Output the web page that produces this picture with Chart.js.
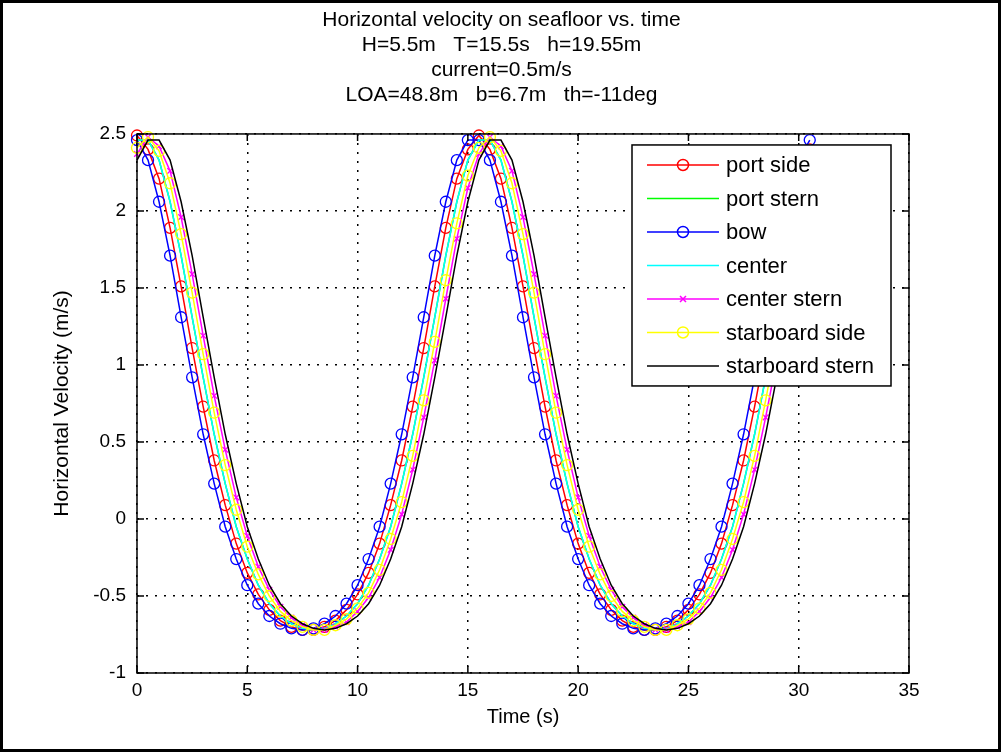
<!DOCTYPE html>
<html>
<head>
<meta charset="utf-8">
<title>Horizontal velocity on seafloor vs. time</title>
<script src="https://cdn.jsdelivr.net/npm/chart.js@4/dist/chart.umd.min.js"></script>
<style>
  body { margin: 0; background: #fff; }
  #wrap { position: relative; width: 1003px; height: 755px; }
  #frame {
    position: absolute; left: 0; top: 0; width: 1001px; height: 752px;
    box-sizing: border-box; border: 3px solid #000; pointer-events: none;
  }
</style>
</head>
<body>
<div id="wrap">
  <canvas id="velChart" width="1003" height="755"></canvas>
  <div id="frame"></div>
</div>
<script>
// time samples (s)
const timeS = [0,0.5,1,1.5,2,2.5,3,3.5,4,4.5,5,5.5,6,6.5,7,7.5,8,8.5,9,9.5,10,10.5,11,11.5,12,12.5,13,13.5,14,14.5,15,
  15.5,16,16.5,17,17.5,18,18.5,19,19.5,20,20.5,21,21.5,22,22.5,23,23.5,24,24.5,25,25.5,26,26.5,27,27.5,28,28.5,29,29.5,30,30.5];

// horizontal velocity (m/s)
const portSide = [2.49,2.40,2.21,1.89,1.51,1.11,0.73,0.38,0.09,-0.16,-0.35,-0.49,-0.59,-0.66,-0.70,-0.72,-0.72,-0.70,-0.66,-0.59,-0.49,-0.35,-0.16,0.09,0.38,0.73,1.11,1.51,1.89,2.21,2.40,
  2.49,2.40,2.21,1.89,1.51,1.11,0.73,0.38,0.09,-0.16,-0.35,-0.49,-0.59,-0.66,-0.70,-0.72,-0.72,-0.70,-0.66,-0.59,-0.49,-0.35,-0.16,0.09,0.38,0.73,1.11,1.51,1.89,2.21,2.40];
const portStern = [2.46,2.46,2.33,2.06,1.71,1.31,0.92,0.55,0.23,-0.05,-0.26,-0.43,-0.55,-0.63,-0.68,-0.71,-0.72,-0.71,-0.68,-0.63,-0.55,-0.43,-0.26,-0.05,0.23,0.55,0.92,1.31,1.71,2.06,2.33,
  2.46,2.46,2.33,2.06,1.71,1.31,0.92,0.55,0.23,-0.05,-0.26,-0.43,-0.55,-0.63,-0.68,-0.71,-0.72,-0.71,-0.68,-0.63,-0.55,-0.43,-0.26,-0.05,0.23,0.55,0.92,1.31,1.71,2.06,2.33];
const bow = [2.46,2.33,2.06,1.71,1.31,0.92,0.55,0.23,-0.05,-0.26,-0.43,-0.55,-0.63,-0.68,-0.71,-0.72,-0.71,-0.68,-0.63,-0.55,-0.43,-0.26,-0.05,0.23,0.55,0.92,1.31,1.71,2.06,2.33,2.46,
  2.46,2.33,2.06,1.71,1.31,0.92,0.55,0.23,-0.05,-0.26,-0.43,-0.55,-0.63,-0.68,-0.71,-0.72,-0.71,-0.68,-0.63,-0.55,-0.43,-0.26,-0.05,0.23,0.55,0.92,1.31,1.71,2.06,2.33,2.46];
const center = [2.46,2.46,2.33,2.06,1.71,1.31,0.92,0.55,0.23,-0.05,-0.26,-0.43,-0.55,-0.63,-0.68,-0.71,-0.72,-0.71,-0.68,-0.63,-0.55,-0.43,-0.26,-0.05,0.23,0.55,0.92,1.31,1.71,2.06,2.33,
  2.46,2.46,2.33,2.06,1.71,1.31,0.92,0.55,0.23,-0.05,-0.26,-0.43,-0.55,-0.63,-0.68,-0.71,-0.72,-0.71,-0.68,-0.63,-0.55,-0.43,-0.26,-0.05,0.23,0.55,0.92,1.31,1.71,2.06,2.33];
const centerStern = [2.37,2.48,2.42,2.26,1.96,1.59,1.19,0.80,0.45,0.14,-0.11,-0.31,-0.46,-0.57,-0.64,-0.69,-0.72,-0.72,-0.70,-0.67,-0.60,-0.51,-0.38,-0.20,0.03,0.32,0.66,1.03,1.43,1.82,2.15,
  2.37,2.48,2.42,2.26,1.96,1.59,1.19,0.80,0.45,0.14,-0.11,-0.31,-0.46,-0.57,-0.64,-0.69,-0.72,-0.72,-0.70,-0.67,-0.60,-0.51,-0.38,-0.20,0.03,0.32,0.66,1.03,1.43,1.82,2.15];
const starboardSide = [2.41,2.48,2.39,2.18,1.85,1.47,1.07,0.69,0.35,0.06,-0.18,-0.36,-0.50,-0.60,-0.66,-0.70,-0.72,-0.72,-0.69,-0.65,-0.58,-0.48,-0.33,-0.13,0.11,0.41,0.77,1.15,1.55,1.92,2.23,
  2.41,2.48,2.39,2.18,1.85,1.47,1.07,0.69,0.35,0.06,-0.18,-0.36,-0.50,-0.60,-0.66,-0.70,-0.72,-0.72,-0.69,-0.65,-0.58,-0.48,-0.33,-0.13,0.11,0.41,0.77,1.15,1.55,1.92,2.23];
const starboardStern = [2.33,2.46,2.46,2.33,2.06,1.71,1.31,0.92,0.55,0.23,-0.05,-0.26,-0.43,-0.55,-0.63,-0.68,-0.71,-0.72,-0.71,-0.68,-0.63,-0.55,-0.43,-0.26,-0.05,0.23,0.55,0.92,1.31,1.71,2.06,
  2.33,2.46,2.46,2.33,2.06,1.71,1.31,0.92,0.55,0.23,-0.05,-0.26,-0.43,-0.55,-0.63,-0.68,-0.71,-0.72,-0.71,-0.68,-0.63,-0.55,-0.43,-0.26,-0.05,0.23,0.55,0.92,1.31,1.71,2.06];

const seriesNames = ["port side", "port stern", "bow", "center", "center stern", "starboard side", "starboard stern"];
const xTicks = [0, 5, 10, 15, 20, 25, 30, 35];
const yTicks = [-1, -0.5, 0, 0.5, 1, 1.5, 2, 2.5];
const titleLines = [
  "Horizontal velocity on seafloor vs. time",
  "H=5.5m   T=15.5s   h=19.55m",
  "current=0.5m/s",
  "LOA=48.8m   b=6.7m   th=-11deg"
];

const FONT = "'Liberation Sans', Arial, Helvetica, sans-serif";
const seriesValues = [portSide, portStern, bow, center, centerStern, starboardSide, starboardStern];
const seriesColors = ["#ff0000", "#00ff00", "#0000ff", "#00ffff", "#ff00ff", "#ffff00", "#000000"];
const seriesMarkers = ["circle", false, "circle", false, "crossRot", "circle", false];

// box, inward ticks on all four sides
const axesBox = {
  id: "axesBox",
  afterDatasetsDraw(chart) {
    const { ctx, chartArea: a, scales } = chart;
    ctx.save();
    ctx.strokeStyle = "#000";
    ctx.lineWidth = 1.5;
    ctx.strokeRect(a.left, a.top, a.right - a.left, a.bottom - a.top);
    ctx.beginPath();
    xTicks.forEach(v => {
      const px = scales.x.getPixelForValue(v);
      ctx.moveTo(px, a.bottom); ctx.lineTo(px, a.bottom - 7);
      ctx.moveTo(px, a.top); ctx.lineTo(px, a.top + 7);
    });
    yTicks.forEach(v => {
      const py = scales.y.getPixelForValue(v);
      ctx.moveTo(a.left, py); ctx.lineTo(a.left + 7, py);
      ctx.moveTo(a.right, py); ctx.lineTo(a.right - 7, py);
    });
    ctx.stroke();
    ctx.restore();
  }
};

// MATLAB style legend box inside the axes
const legendBox = {
  id: "legendBox",
  afterDatasetsDraw(chart) {
    const { ctx, chartArea: a } = chart;
    const w = 259, h = 241;
    const left = a.right - 18 - w, top = a.top + 11;
    ctx.save();
    ctx.fillStyle = "#fff";
    ctx.fillRect(left, top, w, h);
    ctx.strokeStyle = "#000";
    ctx.lineWidth = 1.5;
    ctx.strokeRect(left, top, w, h);
    ctx.font = "22px " + FONT;
    ctx.textBaseline = "middle";
    chart.data.datasets.forEach((ds, i) => {
      const y = top + 20 + i * 33.5;
      ctx.strokeStyle = ds.borderColor;
      ctx.lineWidth = 1.5;
      ctx.beginPath();
      ctx.moveTo(left + 15, y);
      ctx.lineTo(left + 87, y);
      ctx.stroke();
      const mx = left + 51;
      if (ds.pointStyle === "circle") {
        ctx.beginPath();
        ctx.arc(mx, y, 5.5, 0, Math.PI * 2);
        ctx.stroke();
      } else if (ds.pointStyle === "crossRot") {
        ctx.beginPath();
        ctx.moveTo(mx - 3, y - 3); ctx.lineTo(mx + 3, y + 3);
        ctx.moveTo(mx + 3, y - 3); ctx.lineTo(mx - 3, y + 3);
        ctx.stroke();
      }
      ctx.fillStyle = "#000";
      ctx.fillText(ds.label, left + 94, y + 1);
    });
    ctx.restore();
  }
};

const datasets = seriesNames.map((name, i) => ({
  label: name,
  data: timeS.map((t, k) => ({ x: t, y: seriesValues[i][k] })),
  borderColor: seriesColors[i],
  borderWidth: 1.5,
  tension: 0,
  fill: false,
  clip: false,
  order: seriesNames.length - 1 - i,
  pointStyle: seriesMarkers[i],
  pointRadius: seriesMarkers[i] === "crossRot" ? 4 : (seriesMarkers[i] ? 5.5 : 0),
  pointBorderColor: seriesColors[i],
  pointBackgroundColor: "rgba(0,0,0,0)",
  pointBorderWidth: 1.3
}));

new Chart(document.getElementById("velChart"), {
  type: "line",
  data: { datasets: datasets },
  plugins: [axesBox, legendBox],
  options: {
    responsive: false,
    animation: false,
    events: [],
    layout: { padding: { left: 50, right: 50, top: 0, bottom: 26 } },
    plugins: {
      legend: { display: false },
      tooltip: { enabled: false },
      title: {
        display: true,
        text: titleLines,
        color: "#000",
        font: { family: FONT, size: 21, weight: "normal", lineHeight: 1.19 },
        padding: { top: 7.5, bottom: 26.5 }
      }
    },
    scales: {
      x: {
        type: "linear",
        min: 0,
        max: 35,
        afterBuildTicks: s => { s.ticks = xTicks.map(v => ({ value: v })); },
        afterFit: s => { s.height = 56; },
        ticks: { color: "#000", font: { family: FONT, size: 19 }, padding: 6, maxRotation: 0,
                 callback: v => String(v) },
        grid: { color: "#000", lineWidth: 1.5, drawTicks: false },
        border: { display: false, dash: [2, 7] },
        title: {
          display: true, text: "Time (s)", color: "#000",
          font: { family: FONT, size: 20 }, padding: { top: 0, bottom: 0 }
        }
      },
      y: {
        type: "linear",
        min: -1,
        max: 2.5,
        afterBuildTicks: s => { s.ticks = yTicks.map(v => ({ value: v })); },
        afterFit: s => { s.width = 87; },
        ticks: { color: "#000", font: { family: FONT, size: 19 }, padding: 11,
                 callback: v => String(v) },
        grid: { color: "#000", lineWidth: 1.5, drawTicks: false },
        border: { display: false, dash: [2, 7] },
        title: {
          display: true, text: "Horizontal Velocity (m/s)", color: "#000",
          font: { family: FONT, size: 21 }, padding: { top: 0, bottom: 0 }
        }
      },
      // empty right-hand box so the figure title sits centred on the page
      yRight: {
        type: "linear",
        position: "right",
        min: -1,
        max: 2.5,
        afterFit: s => { s.width = 44; },
        ticks: { display: false },
        grid: { display: false },
        border: { display: false }
      }
    }
  }
});
</script>
</body>
</html>
